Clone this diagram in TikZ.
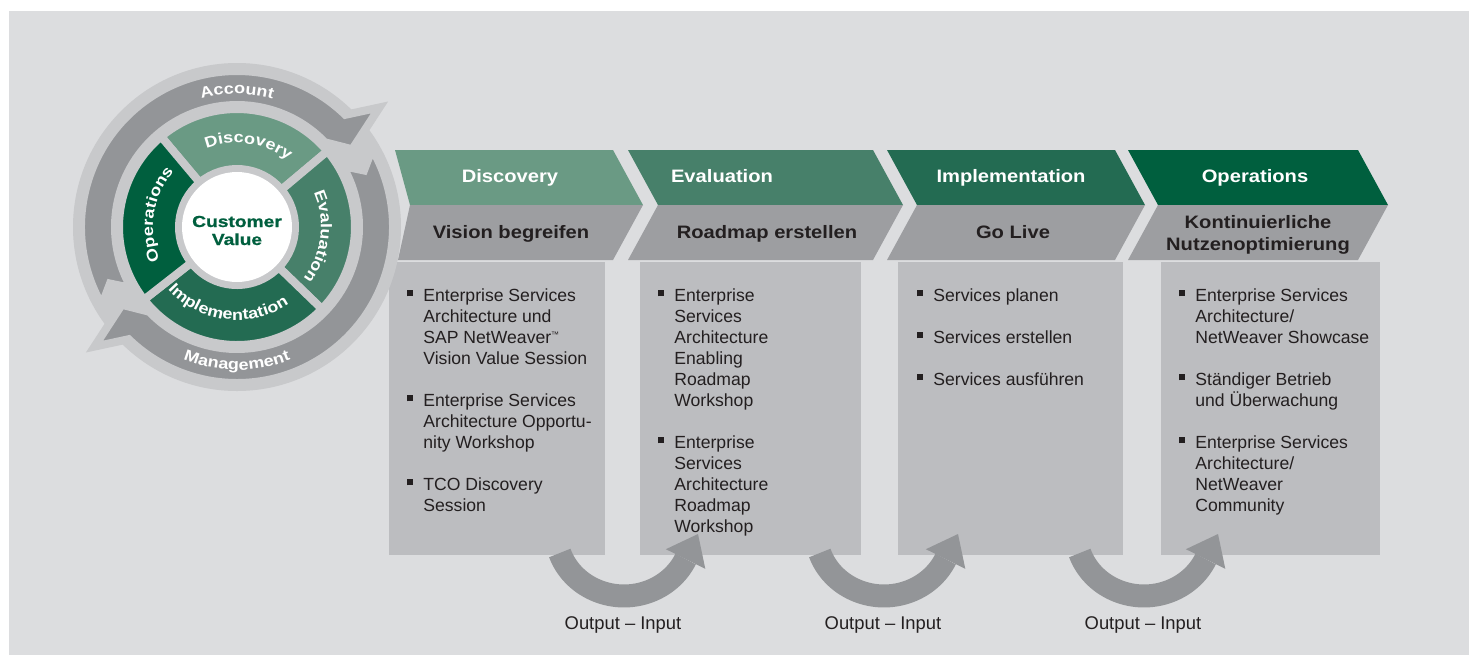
\documentclass[tikz,border=0pt]{standalone}
\usepackage{fontspec}
\setmainfont{Liberation Sans}
\newfontfamily\hdfont[FakeStretch=1.12]{Liberation Sans}
\newfontfamily\lblfont[FakeStretch=1.17]{Liberation Sans}
\newfontfamily\ctrfont[FakeStretch=1.2,BoldFeatures={FakeBold=0.8}]{Liberation Sans}
\usetikzlibrary{calc,decorations.text}
\definecolor{bgc}{HTML}{DCDDDF}
\definecolor{ringlight}{HTML}{C8C9CB}
\definecolor{ringdark}{HTML}{939598}
\definecolor{gA}{HTML}{6A9A84}
\definecolor{gB}{HTML}{47806A}
\definecolor{gC}{HTML}{236B52}
\definecolor{gD}{HTML}{005F3E}
\definecolor{rowgrey}{HTML}{9D9EA1}
\definecolor{bodygrey}{HTML}{BCBDC0}
\definecolor{txtdark}{HTML}{231F20}
\newcommand\bul{\llap{\rule[2.5pt]{3pt}{3pt}\hspace{5pt}}}
\newcommand\tmark{\raisebox{3pt}{\fontsize{4}{4}\selectfont ™}}
\newcommand\lblfmt{\fontsize{7.7}{9}\lblfont\bfseries\color{white}}
\begin{document}
\begin{tikzpicture}[x=0.5pt,y=0.5pt,
  hdtxt/.style={font=\fontsize{9}{11}\hdfont\bfseries, text=white, inner sep=0, anchor=base},
  rowtxt/.style={font=\fontsize{9}{11}\hdfont\bfseries, text=txtdark, inner sep=0, anchor=base},
  bodytxt/.style={font=\fontsize{8.8}{10.5}\selectfont, text=txtdark, inner sep=0, anchor=north west, align=left},
  outtxt/.style={font=\fontsize{9.2}{11}\selectfont, text=txtdark, inner sep=0, anchor=base},
  ctrtxt/.style={font=\fontsize{8}{10}\ctrfont\bfseries, text=gD, inner sep=0, anchor=base},
  flowline/.style={draw=ringdark, line width=11.5pt},
  band/.style={fill=ringdark, draw=ringlight, line width=4pt, line join=miter},
  sector/.style={fill=#1, draw=ringlight, line width=4pt},
  arclbl/.style={decorate, decoration={text along path, text={|\lblfmt|#1}, text align=center}},
]
\useasboundingbox (0,0) rectangle (1474,-655);
\fill[bgc] (9,-11) rectangle (1469,-655);

% body boxes
\fill[bodygrey] (389,-262) rectangle (605,-555);
\fill[bodygrey] (640,-262) rectangle (861,-555);
\fill[bodygrey] (898,-262) rectangle (1123,-555);
\fill[bodygrey] (1161,-262) rectangle (1380,-555);

% chevrons
\fill[gA] (395,-150) -- (613,-150) -- (643,-205) -- (410,-205) -- cycle;
\fill[rowgrey] (410,-205) -- (643,-205) -- (613,-260) -- (398,-260) -- cycle;
\fill[gB] (628,-150) -- (873,-150) -- (903,-205) -- (658,-205) -- cycle;
\fill[rowgrey] (658,-205) -- (903,-205) -- (873,-260) -- (628,-260) -- cycle;
\fill[gC] (887,-150) -- (1115,-150) -- (1145,-205) -- (917,-205) -- cycle;
\fill[rowgrey] (917,-205) -- (1145,-205) -- (1115,-260) -- (887,-260) -- cycle;
\fill[gD] (1128,-150) -- (1358,-150) -- (1388,-205) -- (1158,-205) -- cycle;
\fill[rowgrey] (1158,-205) -- (1388,-205) -- (1358,-260) -- (1128,-260) -- cycle;

\node[hdtxt] (h1) at (510,-182) {Discovery};
\node[hdtxt] (h2) at (722,-182) {Evaluation};
\node[hdtxt] (h3) at (1011,-182) {Implementation};
\node[hdtxt] (h4) at (1255,-182) {Operations};
\node[rowtxt] (r1) at (511,-238) {Vision begreifen};
\node[rowtxt] (r2) at (767,-238) {Roadmap erstellen};
\node[rowtxt] (r3) at (1013,-238) {Go Live};
\node[rowtxt] (r4a) at (1258,-228) {Kontinuierliche};
\node[rowtxt] (r4b) at (1258,-250) {Nutzenoptimierung};

% body texts
\node[bodytxt] (t1) at (423,-286.3) {\strut\bul Enterprise Services\\Architecture und\\SAP NetWeaver\tmark\\Vision Value Session\\[10.5pt]\bul Enterprise Services\\Architecture Opportu-\\nity Workshop\\[10.5pt]\bul TCO Discovery\\Session};
\node[bodytxt] (t2) at (674,-286.3) {\strut\bul Enterprise\\Services\\Architecture\\Enabling\\Roadmap\\Workshop\\[10.5pt]\bul Enterprise\\Services\\Architecture\\Roadmap\\Workshop};
\node[bodytxt] (t3) at (933,-286.3) {\strut\bul Services planen\\[10.5pt]\bul Services erstellen\\[10.5pt]\bul Services ausführen};
\node[bodytxt] (t4) at (1195,-286.3) {\strut\bul Enterprise Services\\Architecture/\\NetWeaver Showcase\\[10.5pt]\bul Ständiger Betrieb\\und Überwachung\\[10.5pt]\bul Enterprise Services\\Architecture/\\NetWeaver\\Community};

% output-input arrows
\foreach \i/\dx in {1/0,2/260,3/520} {
  \begin{scope}[shift={(\dx,0)}]
    \coordinate (fs\i) at (559.8,-553);
    \coordinate (ft\i) at (698,-534);
    \coordinate (fl\i) at (665.9,-549.2);
    \coordinate (fr\i) at (705.3,-568.8);
    \draw[flowline] (fs\i) arc[start angle=199.2, end angle=335, x radius=68, y radius=64] coordinate (fb\i);
    \fill[ringdark] (fl\i) -- (ft\i) -- (fr\i) -- cycle;
    \node[outtxt] (oi\i) at (623,-629) {Output – Input};
  \end{scope}
}

% cycle circle
\coordinate (C) at (237,-227);
\fill[ringlight] (C) circle[radius=164];
\path[band] ($(C)+(210:122)$) -- ($(C)+(204:139)$) -- ($(C)+(210:156)$)
  arc[start angle=210, end angle=46, radius=156] -- ($(C)+(40:186)$) -- ($(C)+(34:139)$)
  -- ($(C)+(44:122)$) arc[start angle=44, end angle=210, radius=122] -- cycle;
\path[band] ($(C)+(30:122)$) -- ($(C)+(24:139)$) -- ($(C)+(30:156)$)
  arc[start angle=30, end angle=-134, radius=156] -- ($(C)+(-140:186)$) -- ($(C)+(-146:139)$)
  -- ($(C)+(-136:122)$) arc[start angle=-136, end angle=30, radius=122] -- cycle;
\path[sector=gA] ($(C)+(130:118)$) arc[start angle=130, end angle=40, radius=118] -- ($(C)+(40:58)$) arc[start angle=40, end angle=130, radius=58] -- cycle;
\path[sector=gB] ($(C)+(40:118)$) arc[start angle=40, end angle=-44, radius=118] -- ($(C)+(-44:58)$) arc[start angle=-44, end angle=40, radius=58] -- cycle;
\path[sector=gC] ($(C)+(-44:118)$) arc[start angle=-44, end angle=-142, radius=118] -- ($(C)+(-142:58)$) arc[start angle=-142, end angle=-44, radius=58] -- cycle;
\path[sector=gD] ($(C)+(218:118)$) arc[start angle=218, end angle=130, radius=118] -- ($(C)+(130:58)$) arc[start angle=130, end angle=218, radius=58] -- cycle;
\fill[white] (C) circle[radius=55];
\node[ctrtxt] (cv1) at (237,-227) {Customer};
\node[ctrtxt] (cv2) at (237,-245) {Value};

\path[arclbl=Account] ($(C)+(125:133)$) arc[start angle=125, end angle=55, radius=133];
\path[arclbl=Management] ($(C)+(230:143)$) arc[start angle=230, end angle=310, radius=143];
\path[arclbl=Discovery] ($(C)+(122:84)$) arc[start angle=122, end angle=42, radius=84];
\path[arclbl=Evaluation] ($(C)+(35:84)$) arc[start angle=35, end angle=-49, radius=84];
\path[arclbl=Implementation] ($(C)+(213:93)$) arc[start angle=213, end angle=313, radius=93];
\path[arclbl=Operations] ($(C)+(216:84)$) arc[start angle=216, end angle=126, radius=84];
\end{tikzpicture}
\end{document}
